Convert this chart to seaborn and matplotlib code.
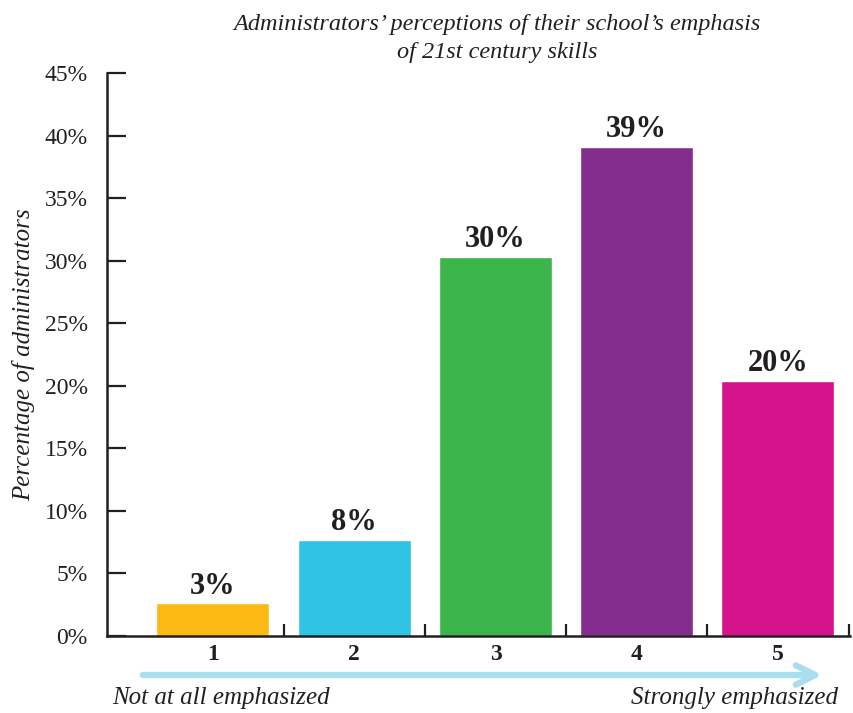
import matplotlib
matplotlib.use("Agg")
import matplotlib.pyplot as plt
from matplotlib.patches import FancyArrowPatch
from matplotlib.ticker import FuncFormatter, FixedLocator
import seaborn as sns
import pandas as pd

# Survey results: share of administrators choosing each rating
ratings = ["1", "2", "3", "4", "5"]
shares = [2.6, 7.7, 30.3, 39.1, 20.4]
bar_colors = ["#FDB913", "#2FC3E5", "#3BB54A", "#842D8F", "#D3128C"]
y_ticks = [0, 5, 10, 15, 20, 25, 30, 35, 40, 45]

title_text = "Administrators\u2019 perceptions of their school\u2019s emphasis\nof 21st century skills"
y_title = "Percentage of administrators"
low_label = "Not at all emphasized"
high_label = "Strongly emphasized"

sns.set_style("white")
plt.rcParams["font.family"] = ["Liberation Serif", "DejaVu Serif"]
ink = "#231F20"

df = pd.DataFrame({"rating": ratings, "share": shares})

fig = plt.figure(figsize=(8.54, 7.13), dpi=100)
ax = fig.add_axes([0.1253, 0.108, 0.8700, 0.7896])

sns.barplot(data=df, x="rating", y="share", hue="rating", palette=bar_colors,
            width=0.8, saturation=1, legend=False, ax=ax)

for c in ax.containers:
    ax.bar_label(c, labels=[f"{v:.0f}%" for v in c.datavalues], padding=2,
                 fontsize=22, fontweight="bold", color=ink)

ax.set_xlim(-0.75, 4.51)
ax.set_ylim(0, 45)
ax.set_yticks(y_ticks)
ax.yaxis.set_major_formatter(FuncFormatter(lambda v, p: f"{v:.0f}%"))
ax.tick_params(axis="y", direction="in", length=14, width=1.6, color=ink,
               labelsize=17, labelcolor=ink, pad=14, left=True)
ax.tick_params(axis="x", which="major", length=0, labelsize=17, pad=6, labelcolor=ink)
for t in ax.get_xticklabels():
    t.set_fontweight("bold")
ax.xaxis.set_minor_locator(FixedLocator([0.5, 1.5, 2.5, 3.5, 4.5]))
ax.tick_params(axis="x", which="minor", direction="in", length=8.5, width=1.6,
               color=ink, bottom=True)

for side in ["top", "right"]:
    ax.spines[side].set_visible(False)
for side in ["left", "bottom"]:
    ax.spines[side].set_linewidth(1.8)
    ax.spines[side].set_color(ink)

ax.set_xlabel("")
ax.set_ylabel(y_title, fontsize=18, style="italic", color=ink)
ax.yaxis.set_label_coords(-0.097, 0.5)

fig.text(0.582, 0.98, title_text, ha="center", va="top", fontsize=17.5,
         style="italic", color=ink, linespacing=1.4)

arrow = FancyArrowPatch((0.164, 0.0533), (0.966, 0.0533), transform=fig.transFigure,
                        arrowstyle="->,head_length=14,head_width=7",
                        lw=4.5, color="#A8DEEE", mutation_scale=1)
fig.patches.append(arrow)

fig.text(0.131, 0.021, low_label, ha="left", va="center", fontsize=18,
         style="italic", color=ink)
fig.text(0.981, 0.021, high_label, ha="right", va="center", fontsize=18,
         style="italic", color=ink)

fig.savefig("out.png", dpi=100)
